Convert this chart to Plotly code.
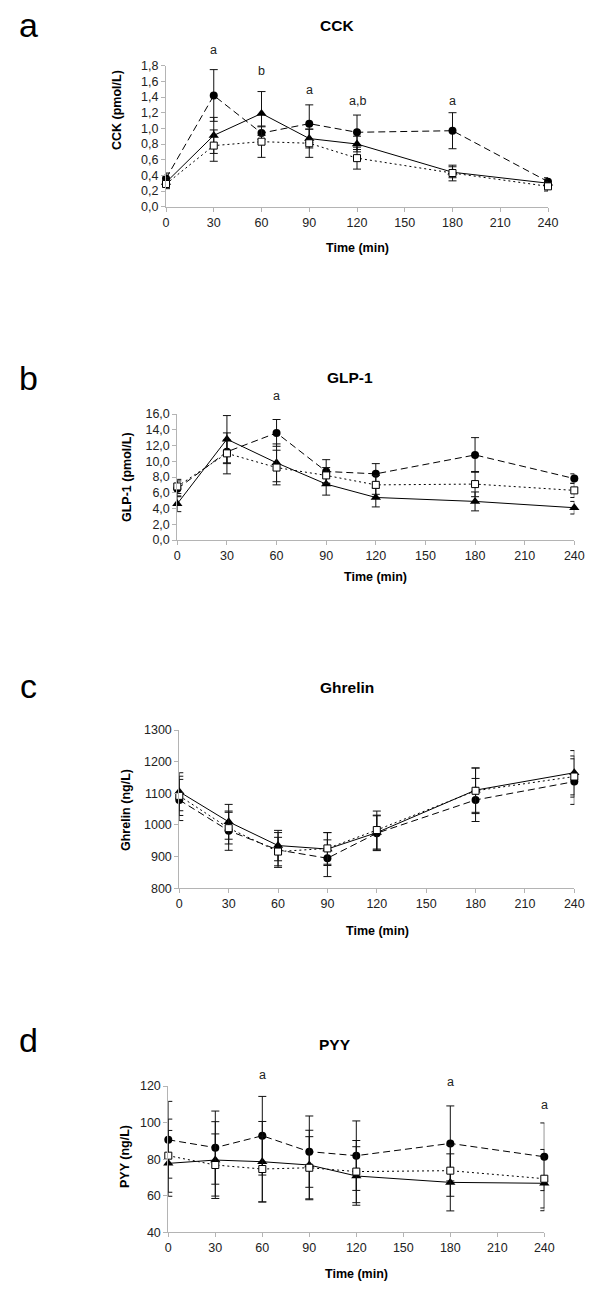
import plotly.graph_objects as go

time = [0, 30, 60, 90, 120, 180, 240]
x_ticks = [0, 30, 60, 90, 120, 150, 180, 210, 240]

# CCK (pmol/L)
cck_circle = [0.36, 1.42, 0.94, 1.06, 0.95, 0.97, 0.32]
cck_circle_se = [0.07, 0.33, 0.08, 0.24, 0.22, 0.23, 0.05]
cck_tri = [0.31, 0.91, 1.19, 0.87, 0.80, 0.44, 0.30]
cck_tri_se = [0.06, 0.23, 0.28, 0.12, 0.10, 0.07, 0.05]
cck_sq = [0.29, 0.78, 0.83, 0.81, 0.62, 0.43, 0.26]
cck_sq_se = [0.06, 0.20, 0.20, 0.18, 0.14, 0.10, 0.06]
cck_yticks = [0, 0.2, 0.4, 0.6, 0.8, 1.0, 1.2, 1.4, 1.6, 1.8]
cck_ylabels = ["0,0", "0,2", "0,4", "0,6", "0,8", "1,0", "1,2", "1,4", "1,6", "1,8"]
cck_sig_x = [30, 60, 90, 120, 180]
cck_sig_y = [2.0, 1.73, 1.49, 1.35, 1.35]
cck_sig_text = ["a", "b", "a", "a,b", "a"]

# GLP-1 (pmol/L)
glp_circle = [6.5, 11.2, 13.6, 8.7, 8.4, 10.8, 7.8]
glp_circle_se = [1.0, 1.5, 1.7, 1.5, 1.3, 2.2, 0.6]
glp_tri = [4.6, 12.8, 9.8, 7.1, 5.4, 4.9, 4.1]
glp_tri_se = [1.0, 3.0, 2.4, 1.4, 1.2, 1.2, 0.8]
glp_sq = [6.8, 11.0, 9.2, 8.2, 7.0, 7.1, 6.3]
glp_sq_se = [0.9, 2.6, 2.2, 1.0, 1.2, 1.6, 0.9]
glp_yticks = [0, 2, 4, 6, 8, 10, 12, 14, 16]
glp_ylabels = ["0,0", "2,0", "4,0", "6,0", "8,0", "10,0", "12,0", "14,0", "16,0"]
glp_sig_x = [60]
glp_sig_y = [18.3]
glp_sig_text = ["a"]

# Ghrelin (ng/L)
gh_circle = [1079, 982, 921, 895, 974, 1079, 1137]
gh_circle_se = [65, 62, 55, 58, 55, 68, 72]
gh_tri = [1105, 1010, 935, 924, 976, 1110, 1165]
gh_tri_se = [60, 55, 48, 52, 55, 70, 70]
gh_sq = [1092, 990, 916, 926, 984, 1108, 1153]
gh_sq_se = [62, 50, 45, 50, 60, 72, 65]
gh_yticks = [800, 900, 1000, 1100, 1200, 1300]
gh_ylabels = ["800", "900", "1000", "1100", "1200", "1300"]
gh_sig_x = []
gh_sig_y = []
gh_sig_text = []

# PYY (ng/L)
pyy_circle = [90.6, 86.3, 92.8, 84.1, 81.9, 88.6, 81.3]
pyy_circle_se = [21, 20, 21.5, 19.5, 19, 20.5, 18.5]
pyy_tri = [77.7, 79.5, 78.6, 76.8, 70.8, 67.3, 66.8]
pyy_tri_se = [18, 21, 22, 19, 16, 15.6, 15]
pyy_sq = [81.9, 76.8, 74.6, 75.3, 73.2, 73.7, 69.3]
pyy_sq_se = [20, 17, 18, 17, 17, 14, 16]
pyy_yticks = [40, 60, 80, 100, 120]
pyy_ylabels = ["40", "60", "80", "100", "120"]
pyy_sig_x = [60, 180, 240]
pyy_sig_y = [125.8, 122.3, 109.6]
pyy_sig_text = ["a", "a", "a"]

W, H = 600, 1302
FONT = "Liberation Sans, Arial, sans-serif"
AXC = "#b4b4b4"

def px(x):
    return x / W

def py(y):
    return 1 - y / H

panels = [
    dict(letter="a", title="CCK", ytitle="CCK (pmol/L)",
         c=cck_circle, ce=cck_circle_se, t=cck_tri, te=cck_tri_se, s=cck_sq, se=cck_sq_se,
         yt=cck_yticks, yl=cck_ylabels, yr=[0, 1.8],
         sx=cck_sig_x, sy=cck_sig_y, st=cck_sig_text,
         x0=166, x1=548, ytop=65.7, ybot=206.7,
         letter_y=25, title_xy=(337, 25), xt_xy=(357, 248), yt_xy=(117, 110)),
    dict(letter="b", title="GLP-1", ytitle="GLP-1 (pmol/L)",
         c=glp_circle, ce=glp_circle_se, t=glp_tri, te=glp_tri_se, s=glp_sq, se=glp_sq_se,
         yt=glp_yticks, yl=glp_ylabels, yr=[0, 16],
         sx=glp_sig_x, sy=glp_sig_y, st=glp_sig_text,
         x0=177.3, x1=574.3, ytop=414, ybot=540,
         letter_y=378, title_xy=(350, 378), xt_xy=(375, 577), yt_xy=(127, 477)),
    dict(letter="c", title="Ghrelin", ytitle="Ghrelin (ng/L)",
         c=gh_circle, ce=gh_circle_se, t=gh_tri, te=gh_tri_se, s=gh_sq, se=gh_sq_se,
         yt=gh_yticks, yl=gh_ylabels, yr=[800, 1300],
         sx=gh_sig_x, sy=gh_sig_y, st=gh_sig_text,
         x0=179.3, x1=574.3, ytop=730, ybot=888.3,
         letter_y=686, title_xy=(347, 687), xt_xy=(377, 931), yt_xy=(126, 810)),
    dict(letter="d", title="PYY", ytitle="PYY (ng/L)",
         c=pyy_circle, ce=pyy_circle_se, t=pyy_tri, te=pyy_tri_se, s=pyy_sq, se=pyy_sq_se,
         yt=pyy_yticks, yl=pyy_ylabels, yr=[40, 120],
         sx=pyy_sig_x, sy=pyy_sig_y, st=pyy_sig_text,
         x0=168.3, x1=544.3, ytop=1086, ybot=1232.3,
         letter_y=1040, title_xy=(335, 1044), xt_xy=(356, 1274), yt_xy=(125, 1157)),
]

fig = go.Figure()
annotations = []
layout_axes = {}

for i, p in enumerate(panels):
    sfx = "" if i == 0 else str(i + 1)
    xa, ya = "x" + sfx, "y" + sfx
    err = lambda arr: dict(type="data", array=arr, visible=True, color="#111",
                           thickness=1, width=4)
    fig.add_trace(go.Scatter(
        x=time, y=p["c"], xaxis=xa, yaxis=ya, mode="lines+markers",
        line=dict(color="black", width=1, dash="7px,4px"),
        marker=dict(symbol="circle", size=8, color="black"),
        error_y=err(p["ce"]), cliponaxis=False, showlegend=False))
    fig.add_trace(go.Scatter(
        x=time, y=p["t"], xaxis=xa, yaxis=ya, mode="lines+markers",
        line=dict(color="black", width=1),
        marker=dict(symbol="triangle-up", size=9, color="black"),
        error_y=err(p["te"]), cliponaxis=False, showlegend=False))
    fig.add_trace(go.Scatter(
        x=time, y=p["s"], xaxis=xa, yaxis=ya, mode="lines+markers",
        line=dict(color="black", width=1, dash="2px,3px"),
        marker=dict(symbol="square", size=7, color="white",
                    line=dict(color="black", width=1)),
        error_y=err(p["se"]), cliponaxis=False, showlegend=False))

    xkey = "xaxis" + sfx
    ykey = "yaxis" + sfx
    layout_axes[xkey] = dict(
        domain=[px(p["x0"]), px(p["x1"])], anchor=ya, range=[0, 240],
        tickmode="array", tickvals=x_ticks, ticktext=[str(v) for v in x_ticks],
        ticks="outside", ticklen=4, tickcolor=AXC, showline=True, linecolor=AXC,
        linewidth=1, showgrid=False, zeroline=False, automargin=False,
        tickfont=dict(family=FONT, size=12.5, color="#222"))
    layout_axes[ykey] = dict(
        domain=[py(p["ybot"]), py(p["ytop"])], anchor=xa, range=p["yr"],
        tickmode="array", tickvals=p["yt"], ticktext=p["yl"],
        ticks="outside", ticklen=4, tickcolor=AXC, showline=True, linecolor=AXC,
        linewidth=1, showgrid=False, zeroline=False, automargin=False,
        tickfont=dict(family=FONT, size=12.5, color="#222"))

    annotations.append(dict(text=p["letter"], x=px(28), y=py(p["letter_y"]),
                            xref="paper", yref="paper", showarrow=False,
                            xanchor="center", yanchor="middle",
                            font=dict(family=FONT, size=34, color="black")))
    annotations.append(dict(text="<b>%s</b>" % p["title"], x=px(p["title_xy"][0]),
                            y=py(p["title_xy"][1]), xref="paper", yref="paper",
                            showarrow=False, xanchor="center", yanchor="middle",
                            font=dict(family=FONT, size=15.5, color="black")))
    annotations.append(dict(text="<b>Time (min)</b>", x=px(p["xt_xy"][0]),
                            y=py(p["xt_xy"][1]), xref="paper", yref="paper",
                            showarrow=False, xanchor="center", yanchor="middle",
                            font=dict(family=FONT, size=12.5, color="black")))
    annotations.append(dict(text="<b>%s</b>" % p["ytitle"], x=px(p["yt_xy"][0]),
                            y=py(p["yt_xy"][1]), xref="paper", yref="paper",
                            showarrow=False, xanchor="center", yanchor="middle",
                            textangle=-90,
                            font=dict(family=FONT, size=12.5, color="black")))
    lo, hi = p["yr"]
    for sx, sy, st in zip(p["sx"], p["sy"], p["st"]):
        annotations.append(dict(text=st, x=sx, y=(sy - lo) / (hi - lo),
                                xref=xa, yref=ya + " domain",
                                showarrow=False, xanchor="center", yanchor="middle",
                                font=dict(family=FONT, size=12.5, color="#222")))

fig.update_layout(
    width=W, height=H, margin=dict(l=0, r=0, t=0, b=0, autoexpand=False),
    paper_bgcolor="white", plot_bgcolor="white",
    showlegend=False, annotations=annotations, **layout_axes)

fig.write_html("out.html", config={"displayModeBar": False},
               post_script="document.body.style.margin='0';document.body.style.padding='0';")
